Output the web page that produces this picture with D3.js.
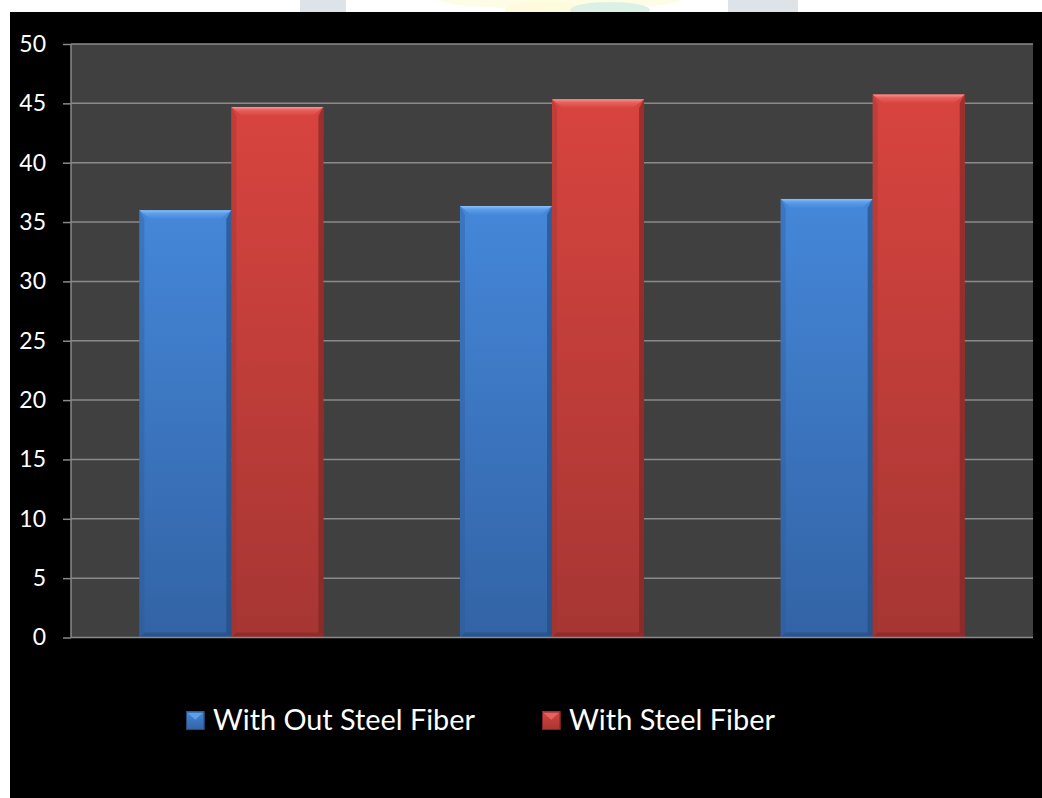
<!DOCTYPE html>
<html>
<head>
<meta charset="utf-8">
<script src="https://cdn.jsdelivr.net/npm/d3@7"></script>
<style>
  html, body { margin: 0; padding: 0; background: #ffffff; }
  svg { display: block; }
</style>
</head>
<body>
<svg id="chart" width="1042" height="798"></svg>
<script>
// ---- data ----
const categories = ["1", "2", "3"];
const seriesNames = ["With Out Steel Fiber", "With Steel Fiber"];
const withoutFiber = [36.0, 36.35, 36.95];
const withFiber = [44.7, 45.35, 45.75];
const yTicks = [0, 5, 10, 15, 20, 25, 30, 35, 40, 45, 50];

const seriesValues = [withoutFiber, withFiber];
const palette = [
  { top: "#4587d9", bot: "#3263a5", bevel: "#5d9fec", hi: "#8cc0f8", side: "#2c5a98", dark: "#24497d" },
  { top: "#d8443f", bot: "#a63633", bevel: "#e9605c", hi: "#f59a97", side: "#9c302d", dark: "#7d2523" }
];

const svg = d3.select("#chart");
const W = 1042, H = 798;

// background: white page with faint watermark, black chart area
svg.append("rect").attr("width", W).attr("height", H).attr("fill", "#ffffff");
const wm = svg.append("g");
wm.append("rect").attr("x", 300).attr("y", 0).attr("width", 46).attr("height", 12).attr("fill", "#dde3e6");
wm.append("ellipse").attr("cx", 560).attr("cy", 0).attr("rx", 120).attr("ry", 9).attr("fill", "#fdfde6");
wm.append("ellipse").attr("cx", 545).attr("cy", 10).attr("rx", 40).attr("ry", 8).attr("fill", "#fdfbdc");
wm.append("ellipse").attr("cx", 610).attr("cy", 10).attr("rx", 40).attr("ry", 8).attr("fill", "#dcf1e6");
wm.append("rect").attr("x", 728).attr("y", 0).attr("width", 70).attr("height", 12).attr("fill", "#dde3e6");
svg.append("rect").attr("x", 10).attr("y", 12).attr("width", W - 10).attr("height", H - 12).attr("fill", "#000000");

const plot = { left: 71, right: 1033, top: 44, bottom: 637.5 };

svg.append("rect")
  .attr("x", plot.left).attr("y", plot.top)
  .attr("width", plot.right - plot.left).attr("height", plot.bottom - plot.top)
  .attr("fill", "#404040");

const y = d3.scaleLinear().domain([0, 50]).range([plot.bottom, plot.top]);
const x0 = d3.scaleBand().domain(categories).range([plot.left, plot.right])
  .paddingInner(0.426).paddingOuter(0.213);
const x1 = d3.scaleBand().domain(d3.range(seriesNames.length)).range([0, x0.bandwidth()]).padding(0);

// gridlines
svg.append("g").selectAll("line").data(yTicks.filter(d => d > 0)).join("line")
  .attr("x1", plot.left).attr("x2", plot.right)
  .attr("y1", d => y(d)).attr("y2", d => y(d))
  .attr("stroke", "#8a8a8a").attr("stroke-width", 1.5);

// gradients
const defs = svg.append("defs");
palette.forEach((p, i) => {
  const g = defs.append("linearGradient").attr("id", "grad" + i)
    .attr("x1", 0).attr("y1", 0).attr("x2", 0).attr("y2", 1);
  g.append("stop").attr("offset", "0%").attr("stop-color", p.top);
  g.append("stop").attr("offset", "100%").attr("stop-color", p.bot);
  const tb = defs.append("linearGradient").attr("id", "bev" + i)
    .attr("x1", 0).attr("y1", 0).attr("x2", 0).attr("y2", 1);
  tb.append("stop").attr("offset", "0%").attr("stop-color", p.hi);
  tb.append("stop").attr("offset", "35%").attr("stop-color", p.bevel);
  tb.append("stop").attr("offset", "100%").attr("stop-color", p.top);
});

// bars
const rows = [];
categories.forEach((c, ci) => {
  seriesValues.forEach((vals, si) => rows.push({ c, si, v: vals[ci] }));
});

const bars = svg.append("g").selectAll("g").data(rows).join("g");
bars.each(function (d) {
  const g = d3.select(this);
  const p = palette[d.si];
  const xL = x0(d.c) + x1(d.si);
  const w = x1.bandwidth();
  const xR = xL + w;
  const yT = y(d.v);
  const yB = y(0);
  const b = 9;   // top bevel
  const s = 5;   // side bevel
  g.append("rect").attr("x", xL).attr("y", yT).attr("width", w).attr("height", yB - yT)
    .attr("fill", "url(#grad" + d.si + ")");
  // left side bevel
  g.append("polygon").attr("points", [[xL, yT], [xL + s, yT + b], [xL + s, yB - s], [xL, yB]].join(" "))
    .attr("fill", p.side).attr("opacity", 0.35);
  // right side bevel
  g.append("polygon").attr("points", [[xR, yT], [xR - s, yT + b], [xR - s, yB - s], [xR, yB]].join(" "))
    .attr("fill", p.dark).attr("opacity", 0.65);
  // bottom bevel
  g.append("polygon").attr("points", [[xL, yB], [xL + s, yB - s], [xR - s, yB - s], [xR, yB]].join(" "))
    .attr("fill", p.dark).attr("opacity", 0.55);
  // top bevel
  g.append("polygon").attr("points", [[xL, yT], [xR, yT], [xR - s * 2.2, yT + b], [xL + s * 2.2, yT + b]].join(" "))
    .attr("fill", "url(#bev" + d.si + ")");
});

// axis lines
svg.append("line").attr("x1", plot.left).attr("x2", plot.left)
  .attr("y1", plot.top).attr("y2", plot.bottom)
  .attr("stroke", "#8a8a8a").attr("stroke-width", 1.5);
svg.append("line").attr("x1", plot.left).attr("x2", plot.right)
  .attr("y1", plot.bottom).attr("y2", plot.bottom)
  .attr("stroke", "#8a8a8a").attr("stroke-width", 1.5);

const yAxis = d3.axisLeft(y).tickValues(yTicks).tickSize(8).tickPadding(17).tickFormat(d3.format("d"));
const ya = svg.append("g").attr("transform", `translate(${plot.left},0)`).call(yAxis);
ya.select(".domain").remove();
ya.selectAll(".tick line").attr("stroke", "#8a8a8a").attr("stroke-width", 1.5);
ya.selectAll(".tick text")
  .attr("fill", "#ffffff")
  .style("font-family", "Lato, 'Open Sans', sans-serif")
  .style("font-size", "23px");

// legend
const legendItems = [
  { name: seriesNames[0], mx: 186, tx: 213, tw: 262 },
  { name: seriesNames[1], mx: 542, tx: 569, tw: 206 }
];
const lg = svg.append("g");
legendItems.forEach((it, i) => {
  const p = palette[i];
  const m = 18.5, my = 711.5;
  lg.append("rect").attr("x", it.mx).attr("y", my).attr("width", m).attr("height", m)
    .attr("fill", "url(#grad" + i + ")");
  lg.append("polygon").attr("points", [[it.mx, my], [it.mx + m, my], [it.mx + m / 2, my + m * 0.45]].join(" "))
    .attr("fill", p.bevel);
  lg.append("rect").attr("x", it.mx + 0.5).attr("y", my + 0.5).attr("width", m - 1).attr("height", m - 1)
    .attr("fill", "none").attr("stroke", p.dark).attr("stroke-width", 1);
  const t = lg.append("text").attr("x", it.tx).attr("y", 729.5)
    .attr("fill", "#ffffff")
    .style("font-family", "Lato, 'Open Sans', sans-serif")
    .style("font-size", "26px")
    .text(it.name);
  const len = t.node().getComputedTextLength();
  if (len > 0) t.style("font-size", (26 * it.tw / len).toFixed(2) + "px");
});
</script>
</body>
</html>
